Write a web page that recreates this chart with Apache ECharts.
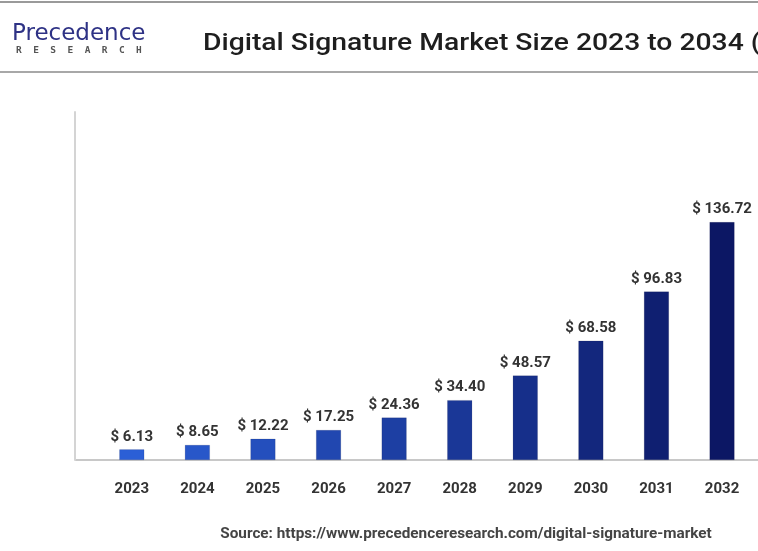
<!DOCTYPE html>
<html>
<head>
<meta charset="utf-8">
<script src="https://cdn.jsdelivr.net/npm/echarts@6/dist/echarts.min.js"></script>
<style>
html,body{margin:0;padding:0;background:#fff;overflow:hidden;width:758px;height:551px;}
#chart{width:900px;height:551px;}
</style>
</head>
<body>
<div id="chart"></div>
<script>
const years = ['2023','2024','2025','2026','2027','2028','2029','2030','2031','2032','2033','2034'];
const marketSize = [6.13, 8.65, 12.22, 17.25, 24.36, 34.40, 48.57, 68.58, 96.83, 136.72, 192.95, 272.30];
const titleText = 'Digital Signature Market Size 2023 to 2034 (USD Billion)';
const sourceText = 'Source: https://www.precedenceresearch.com/digital-signature-market';

function mix(a, b, t) {
  t = Math.max(0, Math.min(1, t));
  const pa = [parseInt(a.slice(1,3),16), parseInt(a.slice(3,5),16), parseInt(a.slice(5,7),16)];
  const pb = [parseInt(b.slice(1,3),16), parseInt(b.slice(3,5),16), parseInt(b.slice(5,7),16)];
  return 'rgb(' + pa.map((v,i)=>Math.round(v + (pb[i]-v)*t)).join(',') + ')';
}

const chart = echarts.init(document.getElementById('chart'));
chart.setOption({
  backgroundColor: '#ffffff',
  animation: false,
  graphic: [
    { type: 'rect', shape: { x: 0, y: 1, width: 900, height: 2 }, style: { fill: '#9a9a9a' } },
    { type: 'rect', shape: { x: 0, y: 71, width: 900, height: 2 }, style: { fill: '#a8a8a8' } },
    { type: 'text', x: 203, y: 44, scaleX: 1.23,
      style: { text: titleText, font: '500 23px Roboto', fill: '#1e1e1e', textVerticalAlign: 'middle' } },
    { type: 'text', x: 12, y: 34,
      style: { text: 'Precedence', font: '23px "DejaVu Sans"', fill: '#2e3285', textVerticalAlign: 'middle' } },
    { type: 'text', x: 16, y: 51,
      style: { text: 'R  E  S  E  A  R  C  H', font: 'bold 9.5px "DejaVu Sans Mono"', fill: '#555', textVerticalAlign: 'middle' } },
    { type: 'text', x: 466, y: 534,
      style: { text: sourceText, font: 'bold 15.3px Roboto', fill: '#444', textAlign: 'center', textVerticalAlign: 'middle' } },
    { type: 'line', shape: { x1: 75, y1: 460, x2: 100, y2: 460 }, style: { stroke: '#c8c8c8', lineWidth: 2 } }
  ],
  grid: { left: 99, top: 112, width: 787, height: 348 },
  xAxis: {
    type: 'category',
    data: years,
    axisLine: { lineStyle: { color: '#c8c8c8', width: 2 } },
    axisTick: { show: false },
    axisLabel: { margin: 22, fontFamily: 'Roboto', fontSize: 15, fontWeight: 'bold', color: '#333' }
  },
  yAxis: {
    type: 'value', min: 0, max: 200, offset: 24,
    axisLine: { show: true, lineStyle: { color: '#d4d4d4', width: 2 } },
    axisLabel: { show: false }, axisTick: { show: false }, splitLine: { show: false }
  },
  series: [{
    type: 'bar',
    data: marketSize,
    barWidth: 25,
    itemStyle: {
      color: p => mix('#2b5fd6', '#0c1764', p.dataIndex / 9),
      borderColor: 'rgba(0,0,40,0.25)', borderWidth: 0.5
    },
    label: {
      show: true, position: 'top', distance: 5,
      formatter: p => '$ ' + p.value.toFixed(2),
      fontFamily: 'Roboto', fontSize: 15, fontWeight: 'bold', color: '#333'
    }
  }]
});
</script>
</body>
</html>
